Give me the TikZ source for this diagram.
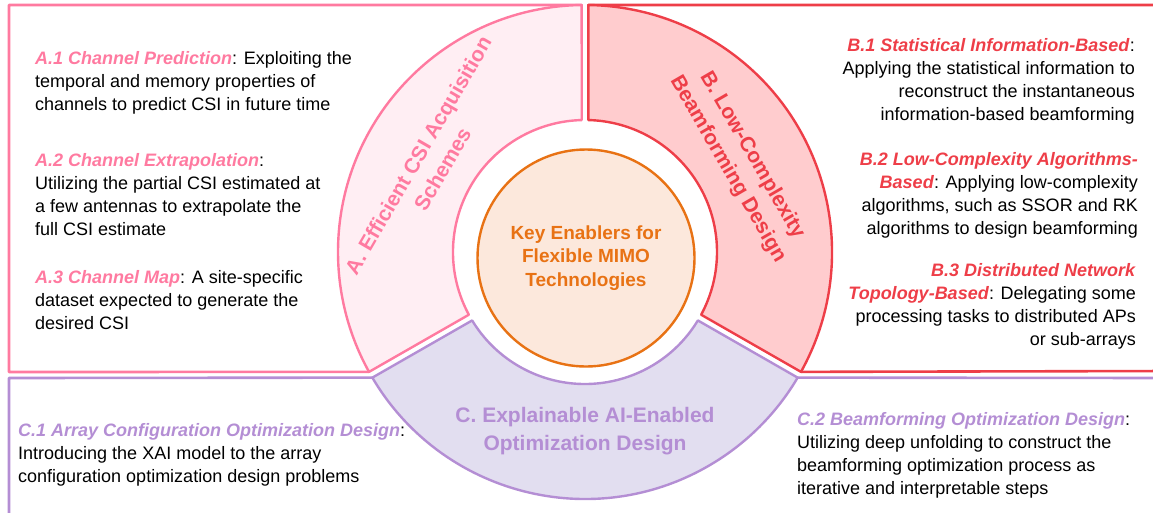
\documentclass[tikz,border=0pt]{standalone}
\usepackage{fontspec}
\setmainfont{Liberation Sans}
\usetikzlibrary{calc}
\definecolor{pinkA}{RGB}{255,122,160}
\definecolor{pinkF}{RGB}{255,238,243}
\definecolor{redB}{RGB}{238,62,72}
\definecolor{redF}{RGB}{255,204,206}
\definecolor{purC}{RGB}{180,142,212}
\definecolor{purF}{RGB}{226,222,240}
\definecolor{oraK}{RGB}{232,114,20}
\definecolor{oraF}{RGB}{252,232,220}
\newcommand{\hd}[2]{\textcolor{#1}{\textbf{\textit{#2}}}}
\begin{document}
\begin{tikzpicture}[x=1pt,y=1pt,line join=round,line cap=round,
	txt/.style={inner sep=0pt,font=\fontsize{18}{23}\selectfont},
	ttl/.style={align=center,inner sep=0pt,font=\bfseries\fontsize{21}{28}\selectfont}]
	\useasboundingbox (0,0) rectangle (1153,-512);
	\clip (0,0) rectangle (1153,-512);
	\path (585,-252) coordinate (O)
	(O) ++(90.77:247pt) coordinate (pa)
	(O) ++(209.03:247pt) coordinate (pb)
	(O) ++(89.23:247pt) coordinate (ra)
	(O) ++(-29.03:247pt) coordinate (rb)
	(O) ++(210.57:247pt) coordinate (qa)
	(O) ++(-30.57:247pt) coordinate (qb);
	\draw[pinkA,line width=2.6pt] (pa)--(9,-5)--(9,-372)--(pb);
	\draw[redB,line width=2.6pt] (ra)--(1170,-5)--(1170,-371)--(rb);
	\draw[purC,line width=2.6pt] (qa)--(9,-378)--(9,-530)--(1170,-530)--(1170,-378)--(qb);
	\foreach \s/\e/\cl/\fl in {90/209.8/pinkA/pinkF,-29.8/90/redB/redF,209.8/330.2/purC/purF}
	\draw[draw=\cl,fill=\fl,line width=2.4pt] (O) ++(\s+0.77:247pt) arc[start angle=\s+0.77,end angle=\e-0.77,radius=247pt]
	--($(O)+(\e-1.43:132pt)$) arc[start angle=\e-1.43,end angle=\s+1.43,radius=132pt]--cycle;
	\node[ttl,text=pinkA,rotate=59.9] (tA) at ($(O)+(149.9:179pt)$) {A. Efficient CSI Acquisition\\Schemes};
	\node[ttl,text=redB,rotate=-59.9] (tB) at ($(O)+(30.1:179pt)$) {B. Low-Complexity\\Beamforming Design};
	\node[ttl,text=purC] (tC) at ($(O)+(270:179pt)$) {C. Explainable AI-Enabled\\Optimization Design};
	\node[circle,draw=oraK,fill=oraF,line width=2.4pt,minimum size=217pt,inner sep=0pt,align=center,text=oraK,
	font=\bfseries\fontsize{19}{23.3}\selectfont] (K) at (586,-258) {Key Enablers for\\Flexible MIMO\\Technologies};
	\node[txt,align=left,anchor=north west] (a1) at (35,-51) {\hd{pinkA}{A.1 Channel Prediction}: Exploiting the\\temporal and memory properties of\\channels to predict CSI in future time};
	\node[txt,align=left,anchor=north west] (a2) at (35,-153) {\hd{pinkA}{A.2 Channel Extrapolation}:\\Utilizing the partial CSI estimated at\\a few antennas to extrapolate the\\full CSI estimate};
	\node[txt,align=left,anchor=north west] (a3) at (35,-270) {\hd{pinkA}{A.3 Channel Map}: A site-specific\\dataset expected to generate the\\desired CSI};
	\node[txt,align=right,anchor=north east] (b1) at (1135,-38) {\hd{redB}{B.1 Statistical Information-Based}:\\Applying the statistical information to\\reconstruct the instantaneous\\information-based beamforming};
	\node[txt,align=right,anchor=north east] (b2) at (1138,-152) {\hd{redB}{B.2 Low-Complexity Algorithms-}\\\hd{redB}{Based}: Applying low-complexity\\algorithms, such as SSOR and RK\\algorithms to design beamforming};
	\node[txt,align=right,anchor=north east] (b3) at (1136,-263) {\hd{redB}{B.3 Distributed Network}\\\hd{redB}{Topology-Based}: Delegating some\\processing tasks to distributed APs\\or sub-arrays};
	\node[txt,align=left,anchor=north west] (c1) at (18,-423) {\hd{purC}{C.1 Array Configuration Optimization Design}:\\Introducing the XAI model to the array\\configuration optimization design problems};
	\node[txt,align=left,anchor=north west] (c2) at (797,-412) {\hd{purC}{C.2 Beamforming Optimization Design}:\\Utilizing deep unfolding to construct the\\beamforming optimization process as\\iterative and interpretable steps};
\end{tikzpicture}
\end{document}
